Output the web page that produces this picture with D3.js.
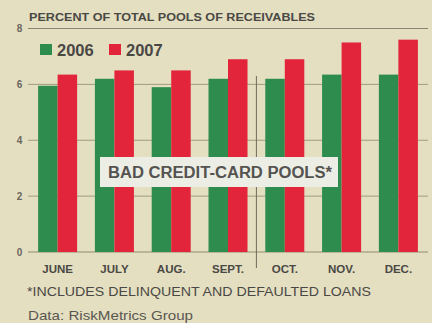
<!DOCTYPE html>
<html><head><meta charset="utf-8">
<script src="https://cdn.jsdelivr.net/npm/d3@7"></script>
<style>
html,body{margin:0;padding:0;background:#e4dfc0;}
svg{display:block;}
</style></head>
<body>
<script>
const months = ["JUNE","JULY","AUG.","SEPT.","OCT.","NOV.","DEC."];
const seriesNames = ["2006","2007"];
const values2006 = [5.95, 6.2, 5.9, 6.2, 6.2, 6.35, 6.35];
const values2007 = [6.35, 6.5, 6.5, 6.9, 6.9, 7.5, 7.6];
const yTicks = [0, 2, 4, 6, 8];
const colors = ["#2e8d4e", "#e2253a"];
const title = "PERCENT OF TOTAL POOLS OF RECEIVABLES";
const boxLabel = "BAD CREDIT-CARD POOLS*";
const footnote = "*INCLUDES DELINQUENT AND DEFAULTED LOANS";
const source = "Data: RiskMetrics Group";

(function () {
const W = 432, H = 323;
const svg = d3.select("body").append("svg").attr("width", W).attr("height", H);
svg.append("rect").attr("width", W).attr("height", H).attr("fill", "#e4dfc0");

const mLeft = 28, mRight = 428, mTop = 28.5, mBottom = 252;
const y = d3.scaleLinear().domain([0, 8]).range([mBottom, mTop]);
const x = d3.scaleBand().domain(months).range([mLeft, mRight]).paddingInner(0.313).paddingOuter(0.178);
const xs = d3.scaleBand().domain(seriesNames).range([0, x.bandwidth()]).padding(0);

const textCol = "#4a4845";
const font = "'Liberation Sans', Arial, sans-serif";

// gridlines
svg.append("g").selectAll("line").data(yTicks).join("line")
  .attr("x1", mLeft).attr("x2", mRight)
  .attr("y1", d => y(d)).attr("y2", d => y(d))
  .attr("stroke", d => d === 8 ? "#8a8570" : "#8f8a72")
  .attr("stroke-width", d => (d === 0 || d === 8) ? 1.2 : 0.8);

// y tick labels
svg.append("g").selectAll("text").data(yTicks).join("text")
  .attr("x", 19.5).attr("y", d => y(d) + 3.5)
  .attr("text-anchor", "middle")
  .attr("font-family", font).attr("font-size", 10).attr("font-weight", "bold")
  .attr("fill", "#6a6660").text(d => d);

// vertical divider between SEPT and OCT
const xDiv = (x("SEPT.") + x.bandwidth() + x("OCT.")) / 2;
svg.append("line").attr("x1", xDiv).attr("x2", xDiv)
  .attr("y1", y(6.3)).attr("y2", mBottom + 16)
  .attr("stroke", "#6e6a5c").attr("stroke-width", 1);

// bars
const data = months.map((m, i) => ({month: m, vals: [values2006[i], values2007[i]]}));
const groups = svg.append("g").selectAll("g").data(data).join("g")
  .attr("transform", d => `translate(${x(d.month)},0)`);
groups.selectAll("rect").data(d => d.vals.map((v, j) => ({key: seriesNames[j], v, j}))).join("rect")
  .attr("x", d => xs(d.key)).attr("width", xs.bandwidth())
  .attr("y", d => y(d.v)).attr("height", d => y(0) - y(d.v))
  .attr("fill", d => colors[d.j]);

// x labels
svg.append("g").selectAll("text").data(months).join("text")
  .attr("x", d => x(d) + x.bandwidth() / 2).attr("y", 273)
  .attr("text-anchor", "middle")
  .attr("font-family", font).attr("font-size", 11.5).attr("font-weight", "bold")
  .attr("fill", textCol).text(d => d);

// title
svg.append("text").attr("x", 29).attr("y", 20.5)
  .attr("font-family", font).attr("font-size", 10.5).attr("font-weight", "bold")
  .attr("textLength", 286).attr("lengthAdjust", "spacingAndGlyphs")
  .attr("fill", textCol).text(title);

// legend
const legX = [40, 109];
seriesNames.forEach((s, i) => {
  svg.append("rect").attr("x", legX[i]).attr("y", 44).attr("width", 12).attr("height", 11).attr("fill", colors[i]);
  svg.append("text").attr("x", legX[i] + 17).attr("y", 55.5)
    .attr("font-family", font).attr("font-size", 16.5).attr("font-weight", "bold")
    .attr("fill", textCol).text(s);
});

// annotation box
svg.append("rect").attr("x", 100).attr("y", 157).attr("width", 238).attr("height", 30).attr("fill", "#eceee6");
svg.append("text").attr("x", 108).attr("y", 178)
  .attr("font-family", font).attr("font-size", 16).attr("font-weight", "bold")
  .attr("textLength", 224).attr("lengthAdjust", "spacingAndGlyphs")
  .attr("fill", "#555350").text(boxLabel);

// footnote & source
svg.append("text").attr("x", 27).attr("y", 295.5)
  .attr("font-family", font).attr("font-size", 13)
  .attr("textLength", 344).attr("lengthAdjust", "spacingAndGlyphs")
  .attr("fill", textCol).text(footnote);
svg.append("text").attr("x", 28).attr("y", 319.5)
  .attr("font-family", font).attr("font-size", 13.5)
  .attr("textLength", 165).attr("lengthAdjust", "spacingAndGlyphs")
  .attr("fill", "#5a5752").text(source);
})();
</script>
</body></html>
